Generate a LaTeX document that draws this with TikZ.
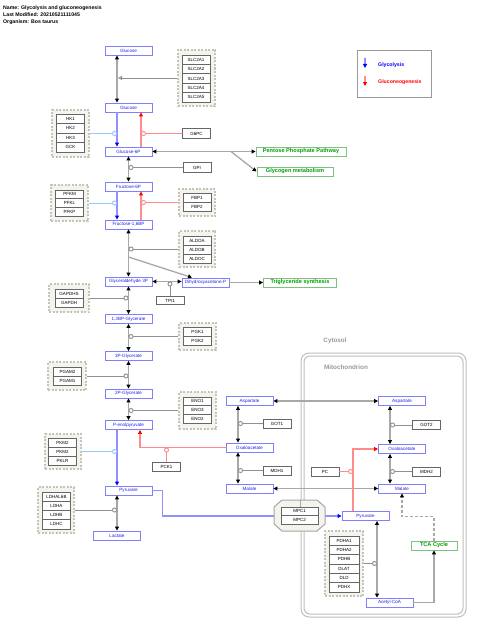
\documentclass[tikz,border=0pt]{standalone}
\usepackage{fontspec}
\setmainfont{Liberation Sans}
\usetikzlibrary{arrows.meta,calc}
\definecolor{metb}{HTML}{8080FF}
\definecolor{mett}{HTML}{2020E8}
\definecolor{convg}{HTML}{A8A8A8}
\definecolor{catg}{HTML}{909090}
\definecolor{bline}{HTML}{9090FF}
\definecolor{bcat}{HTML}{90C8FF}
\definecolor{rline}{HTML}{FF8C8C}
\definecolor{grpfill}{HTML}{F4F4EC}
\definecolor{grpdraw}{HTML}{C4C4BC}
\definecolor{pwd}{HTML}{80C080}
\definecolor{pwt}{HTML}{00A000}
\definecolor{mitog}{HTML}{C0C0C0}
\tikzset{
 metab/.style={draw=metb, line width=0.9pt, fill=white, text=mett, font=\fontsize{4.6pt}{5pt}\selectfont, minimum width=47pt, minimum height=9pt, inner sep=0pt},
 gene/.style={draw=black!60, line width=0.8pt, fill=white, font=\fontsize{4.5pt}{5pt}\selectfont, minimum width=28pt, minimum height=9.3pt, inner sep=0pt},
 grp/.style={draw=grpdraw, dash pattern=on 2pt off 1.5pt, line width=1.1pt, fill=grpfill, inner sep=0pt},
 pway/.style={draw=pwd, line width=0.9pt, fill=white, text=pwt, font=\bfseries\fontsize{5.6pt}{6pt}\selectfont, minimum height=9pt, inner sep=0pt},
 conv/.style={draw=convg, line width=1.3pt, -{Triangle[length=4pt,width=4pt,color=black]}},
 biconv/.style={draw=convg, line width=1.3pt, {Triangle[length=4pt,width=4pt,color=black]}-{Triangle[length=4pt,width=4pt,color=black]}},
 glyc/.style={draw=bline, line width=1.3pt, -{Triangle[length=4pt,width=4pt,color=blue]}},
 gluc/.style={draw=rline, line width=1.3pt, -{Triangle[length=4pt,width=4pt,color=red]}},
 cat/.style={draw=catg, line width=0.9pt, -{Circle[open,length=5pt,width=5pt,fill=white]}},
 bcatal/.style={draw=bcat, line width=0.9pt, -{Circle[open,length=5pt,width=5pt,fill=white]}},
 rcatal/.style={draw=rline, line width=0.9pt, -{Circle[open,length=5pt,width=5pt,fill=white]}},
 ttl/.style={anchor=west, font=\bfseries\fontsize{5.2pt}{6pt}\selectfont, inner sep=0pt},
 comp/.style={font=\bfseries\fontsize{6.3pt}{7pt}\selectfont, text=gray!80, inner sep=0pt},
}
\begin{document}
\begin{tikzpicture}[x=1pt,y=-1pt]
\useasboundingbox (0,0) rectangle (480,634);
\fill[white] (0,0) rectangle (480,634);

% title
\node[ttl] (t1) at (3,8) {Name: Glycolysis and gluconeogenesis};
\node[ttl] (t2) at (3,15) {Last Modified: 20210521111045};
\node[ttl] (t3) at (3,22) {Organism: Bos taurus};

% compartments
\draw[mitog, line width=1pt, rounded corners=8pt] (301,353) rectangle (466,617);
\draw[mitog, line width=1pt, rounded corners=6pt] (304,356) rectangle (463,614);
\node[comp] (cyto) at (335,341) {Cytosol};
\node[comp] (mito) at (346,367) {Mitochondrion};

% legend
\node[draw=gray!80, line width=1pt, minimum width=74pt, minimum height=46pt, inner sep=0pt] (leg) at (394,74) {};
\coordinate (lb1) at (365,58); \coordinate (lb2) at (365,68);
\coordinate (lr1) at (365,76); \coordinate (lr2) at (365,86);
\draw[glyc] (lb1) -- (lb2);
\draw[gluc] (lr1) -- (lr2);
\node[anchor=west, text=blue, font=\bfseries\fontsize{5.2pt}{6pt}\selectfont, inner sep=0pt] (lg1) at (378,65) {Glycolysis};
\node[anchor=west, text=red, font=\bfseries\fontsize{5.2pt}{6pt}\selectfont, inner sep=0pt] (lg2) at (378,82) {Gluconeogenesis};

% metabolites
\node[metab] (glc1) at (128.5,50.5) {Glucose};
\node[metab] (glc2) at (128.5,107.5) {Glucose};
\node[metab] (g6p) at (128.5,151.5) {Glucose-6P};
\node[metab] (f6p) at (128.5,186.5) {Fructose-6P};
\node[metab] (fbp) at (128.5,224.5) {Fructose-1,6BP};
\node[metab] (gap) at (128.5,281.5) {Glyceraldehyde 3P};
\node[metab] (dhap) at (205.5,282.5) {Dihydroxyacetone-P};
\node[metab] (bpg) at (128.5,319) {1,3BP-Glycerate};
\node[metab] (pg3) at (128.5,356) {3P-Glycerate};
\node[metab] (pg2) at (128.5,393.5) {2P-Glycerate};
\node[metab] (pep) at (128.5,425) {P-enolpyruvate};
\node[metab] (pyr) at (128.5,490.5) {Pyruvate};
\node[metab] (lac) at (117,535.5) {Lactate};
\node[metab] (aspc) at (249.5,401) {Aspartate};
\node[metab] (oaac) at (249.5,447.5) {Oxaloacetate};
\node[metab] (malc) at (249.5,488.5) {Malate};
\node[metab] (aspm) at (402,401) {Aspartate};
\node[metab] (oaam) at (402,449) {Oxaloacetate};
\node[metab] (malm) at (402,488.5) {Malate};
\node[metab] (pyrm) at (365.5,516) {Pyruvate};
\node[metab] (acoa) at (389.5,602.5) {Acetyl-CoA};

% pathways
\node[pway, minimum width=90pt] (ppp) at (301,151.5) {Pentose Phosphate Pathway};
\node[pway, minimum width=76pt] (glyco) at (295,171.5) {Glycogen metabolism};
\node[pway, minimum width=73pt] (tg) at (300,282.5) {Triglyceride synthesis};
\node[pway, minimum width=46pt] (tca) at (434,545.5) {TCA Cycle};

% gene groups
\node[grp, minimum width=37pt, minimum height=56pt] (slcg) at (196.5,78) {};
\node[gene] (slc1) at (196,59.7) {SLC2A1};
\node[gene] (slc2) at (196,69.1) {SLC2A2};
\node[gene] (slc3) at (196,78.5) {SLC2A3};
\node[gene] (slc4) at (196,87.9) {SLC2A4};
\node[gene] (slc5) at (196,97.3) {SLC2A5};

\node[grp, minimum width=37pt, minimum height=47pt] (hkg) at (70.5,133.5) {};
\node[gene, minimum height=9.5pt] (hk1) at (70.5,118.75) {HK1};
\node[gene, minimum height=9.5pt] (hk2) at (70.5,128.25) {HK2};
\node[gene, minimum height=9.5pt] (hk3) at (70.5,137.75) {HK3};
\node[gene, minimum height=9.5pt] (gck) at (70.5,147.25) {GCK};

\node[gene] (g6pc) at (196.5,133.5) {G6PC};
\node[gene] (gpi) at (197,167.5) {GPI};

\node[grp, minimum width=37pt, minimum height=36pt] (pfkg) at (69.5,203) {};
\node[gene, minimum height=8.7pt] (pfkm) at (69.5,194.3) {PFKM};
\node[gene, minimum height=8.7pt] (pfkl) at (69.5,203) {PFKL};
\node[gene, minimum height=8.7pt] (pfkp) at (69.5,211.7) {PFKP};

\node[grp, minimum width=36pt, minimum height=27pt] (fbpg) at (197,202.5) {};
\node[gene, minimum height=9pt] (fbp1) at (197,198) {FBP1};
\node[gene, minimum height=9pt] (fbp2) at (197,207) {FBP2};

\node[grp, minimum width=36pt, minimum height=36pt] (aldog) at (197,249) {};
\node[gene, minimum height=9pt] (aldoa) at (197,240.5) {ALDOA};
\node[gene, minimum height=9pt] (aldob) at (197,249.5) {ALDOB};
\node[gene, minimum height=9pt] (aldoc) at (197,258.5) {ALDOC};

\node[gene, minimum height=8.5pt] (tpi) at (170,300.5) {TPI1};

\node[grp, minimum width=40pt, minimum height=28pt] (gapdhg) at (69,298) {};
\node[gene, minimum height=9pt] (gapdhs) at (69,293.5) {GAPDHS};
\node[gene, minimum height=9pt] (gapdh) at (69,302.5) {GAPDH};

\node[grp, minimum width=37pt, minimum height=27pt] (pgkg) at (197.5,336.5) {};
\node[gene, minimum height=9pt] (pgk1) at (197.5,331.5) {PGK1};
\node[gene, minimum height=9pt] (pgk2) at (197.5,340.5) {PGK2};

\node[grp, minimum width=38pt, minimum height=28pt] (pgamg) at (67,376) {};
\node[gene, minimum height=9pt] (pgam2) at (67.5,371.5) {PGAM2};
\node[gene, minimum height=9pt] (pgam1) at (67.5,380.5) {PGAM1};

\node[grp, minimum width=37pt, minimum height=37pt] (enog) at (197.5,410.5) {};
\node[gene, minimum height=8.7pt] (eno1) at (197.5,401.3) {ENO1};
\node[gene, minimum height=8.7pt] (eno3) at (197.5,410) {ENO3};
\node[gene, minimum height=8.7pt] (eno2) at (197.5,418.7) {ENO2};

\node[grp, minimum width=36pt, minimum height=35pt] (pkg) at (63,451.5) {};
\node[gene, minimum height=9pt] (pkm2a) at (62.5,442.5) {PKM2};
\node[gene, minimum height=9pt] (pkm2b) at (62.5,451.5) {PKM2};
\node[gene, minimum height=9pt] (pklr) at (62.5,460.5) {PKLR};

\node[gene, minimum height=9pt] (pck1) at (166.5,466.5) {PCK1};

\node[grp, minimum width=36pt, minimum height=46pt] (ldhg) at (56,510) {};
\node[gene, minimum height=9.25pt] (ldh6b) at (56.5,496.6) {LDHAL6B};
\node[gene, minimum height=9.25pt] (ldha) at (56.5,505.9) {LDHA};
\node[gene, minimum height=9.25pt] (ldhb) at (56.5,515.1) {LDHB};
\node[gene, minimum height=9.25pt] (ldhc) at (56.5,524.4) {LDHC};

\node[gene, minimum height=9pt] (got1) at (277,423.5) {GOT1};
\node[gene, minimum height=9pt] (mdh1) at (277,470.5) {MDH1};
\node[gene, minimum height=9pt] (pc) at (325,471.5) {PC};
\node[gene, minimum height=8.5pt] (got2) at (426.5,425) {GOT2};
\node[gene, minimum height=9pt] (mdh2) at (426.5,471.5) {MDH2};

\node[grp, minimum width=38pt, minimum height=65pt] (pdhg) at (344,563.5) {};
\node[gene, minimum width=30pt, minimum height=9.33pt] (pdha1) at (344,540.7) {PDHA1};
\node[gene, minimum width=30pt, minimum height=9.33pt] (pdha2) at (344,550) {PDHA2};
\node[gene, minimum width=30pt, minimum height=9.33pt] (pdhb) at (344,559.3) {PDHB};
\node[gene, minimum width=30pt, minimum height=9.33pt] (dlat) at (344,568.7) {DLAT};
\node[gene, minimum width=30pt, minimum height=9.33pt] (dld) at (344,578) {DLD};
\node[gene, minimum width=30pt, minimum height=9.33pt] (pdhx) at (344,587.3) {PDHX};

% catalysis anchor points
\coordinate (slcc) at (118,78);
\coordinate (hkc) at (117,133.5);
\coordinate (g6pcc) at (141,133.5);
\coordinate (gpic) at (128.5,167.5);
\coordinate (pfkc) at (117,203);
\coordinate (fbpc) at (141,202.5);
\coordinate (aldoc) at (128.5,249);
\coordinate (tpic) at (170,281.5);
\coordinate (gapdhc) at (128.5,298);
\coordinate (pgkc) at (128.5,336.5);
\coordinate (pgamc) at (128.5,376);
\coordinate (enoc) at (128.5,410.5);
\coordinate (pkc) at (117,451.5);
\coordinate (pck1c) at (166.5,447.5);
\coordinate (ldhc) at (117,510);
\coordinate (got1c) at (238,423.5);
\coordinate (mdh1c) at (238,470.5);
\coordinate (pcc) at (353,471.5);
\coordinate (got2c) at (390,425);
\coordinate (mdh2c) at (390,471.5);
\coordinate (pdhc) at (377,563.5);
\coordinate (br1) at (128.5,257);
\coordinate (br2) at (231,151.5);

% conversions
\draw[biconv] ([xshift=-11.5pt]glc1.south) -- ([xshift=-11.5pt]glc2.north);
\draw[glyc] ([xshift=-11.5pt]glc2.south) -- ([xshift=-11.5pt]g6p.north);
\draw[gluc] ([xshift=12.5pt]g6p.north) -- ([xshift=12.5pt]glc2.south);
\draw[biconv] (g6p.south) -- (f6p.north);
\draw[biconv] (g6p.east) -- (ppp.west);
\draw[conv] (br2) -- (glyco.west);
\draw[glyc] ([xshift=-11.5pt]f6p.south) -- ([xshift=-11.5pt]fbp.north);
\draw[gluc] ([xshift=12.5pt]fbp.north) -- ([xshift=12.5pt]f6p.south);
\draw[biconv] (fbp.south) -- (gap.north);
\draw[conv] (br1) -- ([xshift=-13.5pt]dhap.north);
\draw[biconv] (gap.east) -- (gap.east -| dhap.west);
\draw[conv] (dhap.east) -- (tg.west);
\draw[biconv] (gap.south) -- (bpg.north);
\draw[biconv] (bpg.south) -- (pg3.north);
\draw[biconv] (pg3.south) -- (pg2.north);
\draw[biconv] (pg2.south) -- (pep.north);
\draw[glyc] ([xshift=-11.5pt]pep.south) -- ([xshift=-11.5pt]pyr.north);
\draw[gluc] (oaac.west) -| ([xshift=11.5pt]pep.south);
\draw[biconv] ([xshift=-11.5pt]pyr.south) -- (lac.north);
\draw[glyc] (pyr.east) -- ++(10,0) |- (pyrm.west);
\draw[biconv] ([xshift=-11.5pt]aspc.south) -- ([xshift=-11.5pt]oaac.north);
\draw[biconv] ([xshift=-11.5pt]oaac.south) -- ([xshift=-11.5pt]malc.north);
\draw[biconv] (aspm.west) -- (aspc.east);
\draw[biconv] (malm.west) -- (malc.east);
\draw[biconv] ([xshift=-12pt]aspm.south) -- ([xshift=-12pt]oaam.north);
\draw[biconv] ([xshift=-12pt]oaam.south) -- ([xshift=-12pt]malm.north);
\draw[gluc] ([xshift=-12.5pt]pyrm.north) |- (oaam.west);
\draw[biconv] ([xshift=11.5pt]pyrm.south) -- ([xshift=-12.5pt]acoa.north);
\draw[conv] (acoa.east) -| (tca.south);
\draw[draw=convg, line width=1.1pt, dash pattern=on 3pt off 2pt, -{Triangle[length=4pt,width=4pt,color=black]}] (tca.north) -- ++(0,-24) -| (malm.south);

% catalysis
\draw[draw=catg, line width=0.9pt, -{Triangle[open,length=4pt,width=4pt,fill=white]}] (slcg.west) -- (slcc);
\draw[bcatal] (hkg.east) -- (hkc);
\draw[rcatal] (g6pc.west) -- (g6pcc);
\draw[cat] (gpi.west) -- (gpic);
\draw[bcatal] (pfkg.east) -- (pfkc);
\draw[rcatal] (fbpg.west) -- (fbpc);
\draw[cat] (aldog.west) -- (aldoc);
\draw[cat] (tpi.north) -- (tpic);
\draw[cat] (gapdhg.east) -- (gapdhc);
\draw[cat] (pgkg.west) -- (pgkc);
\draw[cat] (pgamg.east) -- (pgamc);
\draw[cat] (enog.west) -- (enoc);
\draw[bcatal] (pkg.east) -- (pkc);
\draw[rcatal] (pck1.north) -- (pck1c);
\draw[cat] (ldhg.east) -- (ldhc);
\draw[cat] (got1.west) -- (got1c);
\draw[cat] (mdh1.west) -- (mdh1c);
\draw[rcatal] (pc.east) -- (pcc);
\draw[cat] (got2.west) -- (got2c);
\draw[cat] (mdh2.west) -- (mdh2c);
\draw[cat] (pdhg.east) -- (pdhc);

% MPC transporter
\draw[fill=grpfill, draw=gray!70, line width=1pt] (282,500) -- (317,500) -- (325,507) -- (325,524) -- (317,531) -- (282,531) -- (274,524) -- (274,507) -- cycle;
\draw[draw=gray!70, line width=0.8pt] (300,500) -- (300,507);
\node[gene, minimum width=37pt, minimum height=8.5pt] (mpc1) at (299.5,511.25) {MPC1};
\node[gene, minimum width=37pt, minimum height=8.5pt] (mpc2) at (299.5,519.75) {MPC2};
\end{tikzpicture}
\end{document}
